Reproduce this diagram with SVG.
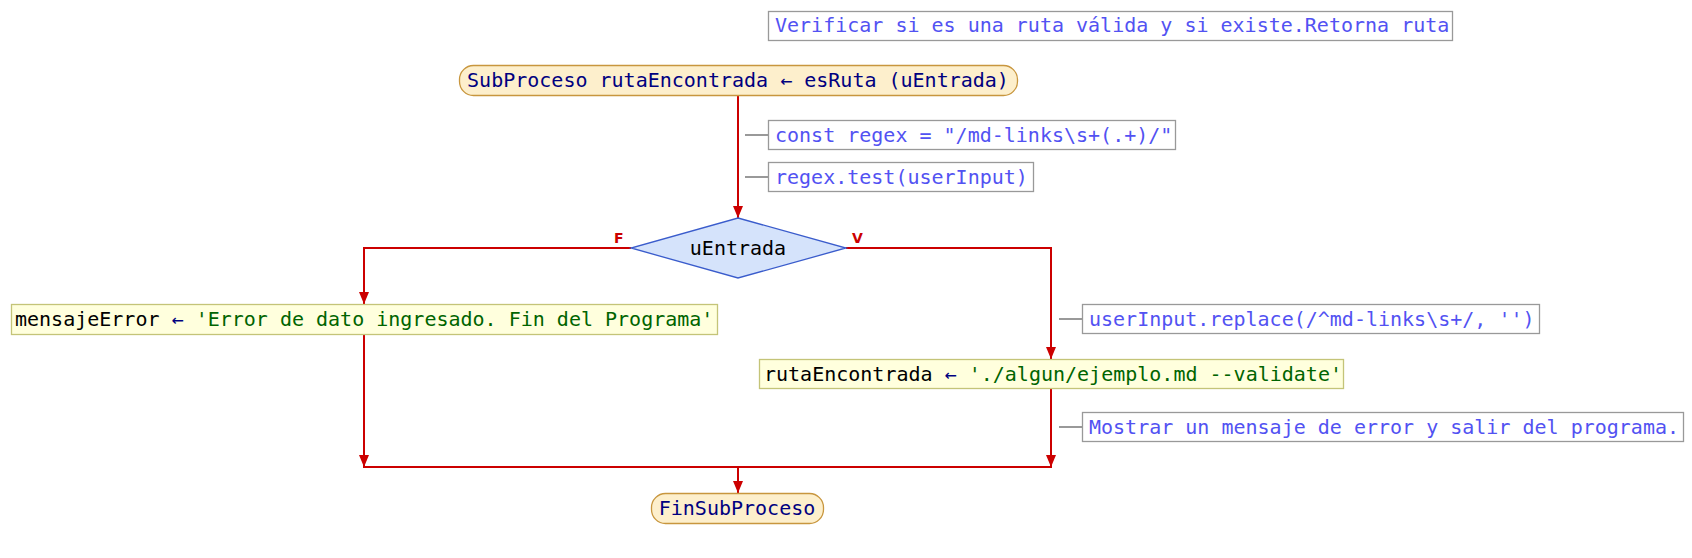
<svg xmlns="http://www.w3.org/2000/svg" width="1692" height="558" viewBox="0 0 1692 558">
<style>
text{font-family:"DejaVu Sans Mono","Liberation Mono",monospace;font-size:20px}
.cmt{fill:#ffffff;stroke:#999999;stroke-width:1.3}
.ct{fill:#5252f2}
.cl{stroke:#999999;stroke-width:2;fill:none}
.term{fill:#fdefcc;stroke:#c8963e;stroke-width:1.3}
.tt{fill:#000080}
.proc{fill:#ffffdd;stroke:#c4c478;stroke-width:1.3}
.var{fill:#000000}
.op{fill:#000080}
.str{fill:#006400}
.dec{fill:#d5e3fb;stroke:#3a5ccc;stroke-width:1.3}
.flow{stroke:#cc0000;stroke-width:2;fill:none}
.lbl{fill:#cc0000;font-family:"DejaVu Sans","Liberation Sans",sans-serif;font-size:14px;font-weight:bold}
</style>
<defs>
<marker id="arr" markerUnits="userSpaceOnUse" markerWidth="12" markerHeight="10" viewBox="0 0 12 10" refX="12" refY="5" orient="auto">
<path d="M0,0 L12,5 L0,10 Z" fill="#cc0000"/>
</marker>
</defs>
<rect width="1692" height="558" fill="#ffffff"/>

<g id="connectors">
<path class="flow" d="M738,96 V218" marker-end="url(#arr)"/>
<path class="flow" d="M631,248 H364 V304" marker-end="url(#arr)"/>
<path class="flow" d="M846,248 H1051 V359" marker-end="url(#arr)"/>
<path class="flow" d="M364,335 V467" marker-end="url(#arr)"/>
<path class="flow" d="M1051,388 V467" marker-end="url(#arr)"/>
<path class="flow" d="M363,467 H1052"/>
<path class="flow" d="M738,467 V493" marker-end="url(#arr)"/>
<path class="cl" d="M745,135 H768 M745,177 H768 M1059,319 H1082 M1059,427 H1082"/>
<text class="lbl" x="614" y="243">F</text>
<text class="lbl" x="852" y="243">V</text>
</g>

<g id="comment-top">
<rect class="cmt" x="768.5" y="11.5" width="684" height="29"/>
<text class="ct" x="775" y="32">Verificar si es una ruta válida y si existe.Retorna ruta</text>
</g>

<g id="start">
<rect class="term" x="459.5" y="65.5" width="558" height="30" rx="14" ry="14"/>
<text class="tt" x="738" y="87" text-anchor="middle">SubProceso rutaEncontrada ← esRuta (uEntrada)</text>
</g>

<g id="comment-regex">
<rect class="cmt" x="768.5" y="120.5" width="407" height="29"/>
<text class="ct" x="775" y="142">const regex = "/md-links\s+(.+)/"</text>
</g>

<g id="comment-test">
<rect class="cmt" x="768.5" y="162.5" width="265" height="29"/>
<text class="ct" x="775" y="184">regex.test(userInput)</text>
</g>

<g id="decision">
<polygon class="dec" points="738,218 846,248 738,278 631,248"/>
<text class="var" x="738" y="255" text-anchor="middle">uEntrada</text>
</g>

<g id="error-assign">
<rect class="proc" x="11.5" y="304.5" width="706" height="30"/>
<text x="15" y="326"><tspan class="var">mensajeError</tspan><tspan class="op"> ← </tspan><tspan class="str">'Error de dato ingresado. Fin del Programa'</tspan></text>
</g>

<g id="comment-replace">
<rect class="cmt" x="1082.5" y="304.5" width="457" height="29"/>
<text class="ct" x="1089" y="326">userInput.replace(/^md-links\s+/, '')</text>
</g>

<g id="ruta-assign">
<rect class="proc" x="759.5" y="359.5" width="584" height="29"/>
<text x="764" y="381"><tspan class="var">rutaEncontrada</tspan><tspan class="op"> ← </tspan><tspan class="str">'./algun/ejemplo.md --validate'</tspan></text>
</g>

<g id="comment-error">
<rect class="cmt" x="1082.5" y="412.5" width="601" height="29"/>
<text class="ct" x="1089" y="434">Mostrar un mensaje de error y salir del programa.</text>
</g>

<g id="end">
<rect class="term" x="651.5" y="493.5" width="172" height="30" rx="14" ry="14"/>
<text class="tt" x="737" y="515" text-anchor="middle">FinSubProceso</text>
</g>
</svg>
